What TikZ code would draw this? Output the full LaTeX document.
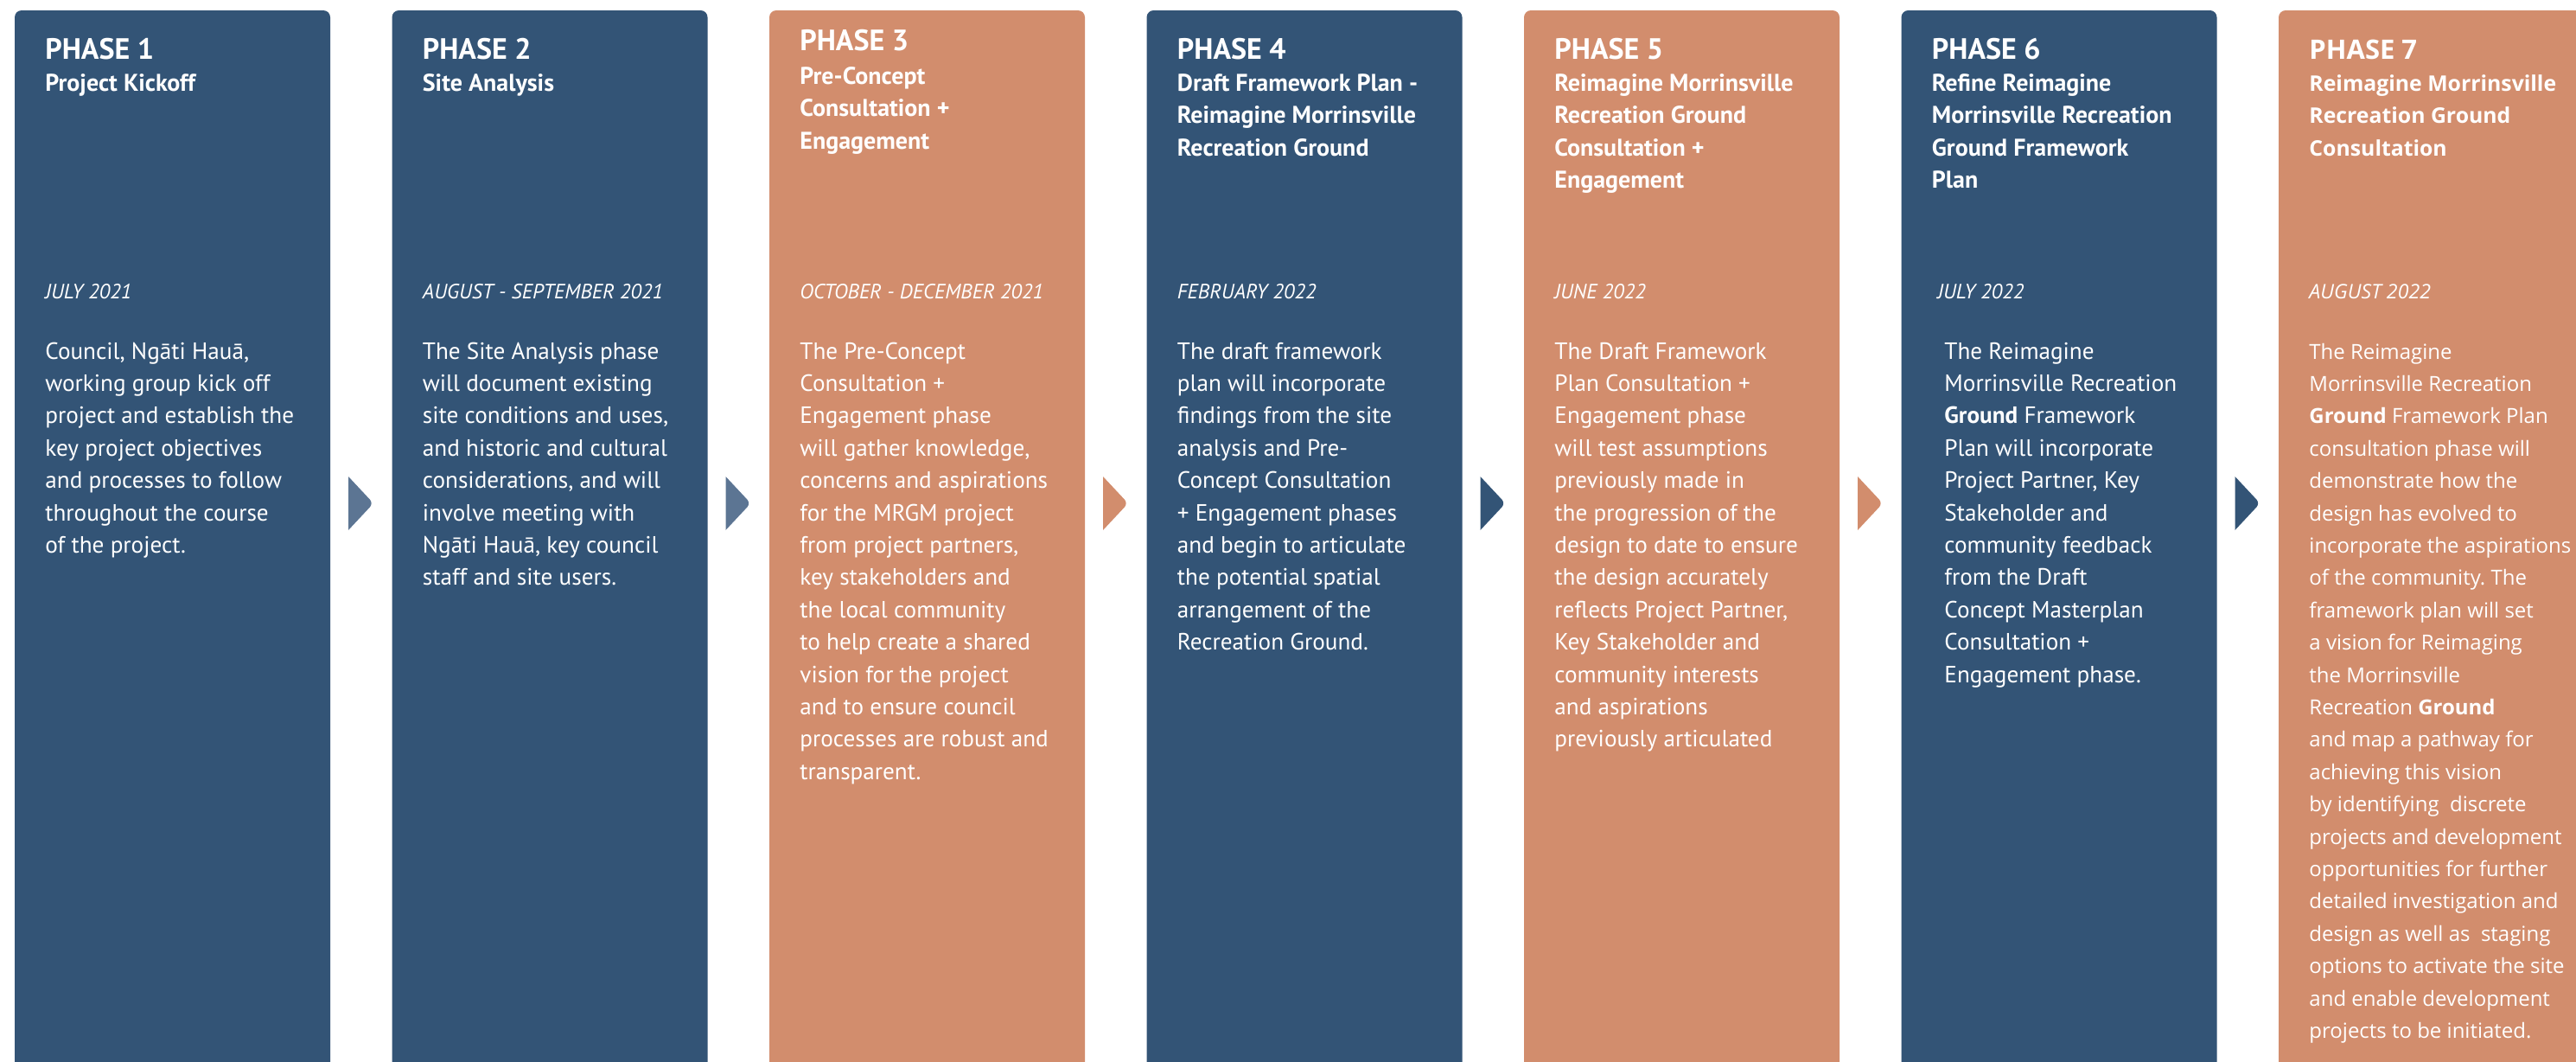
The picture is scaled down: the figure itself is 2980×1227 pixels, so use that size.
\documentclass[tikz,border=0pt]{standalone}
\usepackage{fontspec}
\setmainfont{PT Sans}
\newfontfamily\lateface{Open Sans}
\definecolor{phaseblue}{HTML}{335476}
\definecolor{phaseclay}{HTML}{D28D6D}
\definecolor{phasemist}{HTML}{5C7593}
\newcommand*{\phasefont}{\fontsize{17}{20}\selectfont\bfseries}
\newcommand*{\titlefont}{\fontsize{14}{18.75}\selectfont\bfseries}
\newcommand*{\datefont}{\fontsize{12}{14}\selectfont\itshape}
\newcommand*{\bodyfont}{\fontsize{13.6}{18.7}\selectfont}
\newcommand*{\phaselines}[2]{\parbox[t]{220pt}{#1\frenchspacing\raggedright #2}}

\begin{document}
\begin{tikzpicture}[x=0.5pt, y=-0.5pt]
  \useasboundingbox (0,0) rectangle (2980,1227);
  \fill[white] (0,0) rectangle (2980,1227);
  \clip (0,0) rectangle (2980,1227);

  \foreach \i/\c in {1/phaseblue, 2/phaseblue, 3/phaseclay, 4/phaseblue, 5/phaseclay, 6/phaseblue, 7/phaseclay}
  {
    \fill[\c, rounded corners=4pt] ({17+436.5*(\i-1)}, 12) rectangle ++(365, 1300);
  }

  \foreach \i/\c in {1/phasemist, 2/phasemist, 3/phaseclay, 4/phaseblue, 5/phaseclay, 6/phaseblue}
  {
    \fill[\c] ({403+436.5*(\i-1)}, 551) [rounded corners=3pt] -- ++(29, 31) [sharp corners] -- ++(-29, 31) -- cycle;
  }

  {\tikzstyle{every node}=[anchor=base west, inner sep=0pt, text=white]
    \foreach \i/\y in {1/68, 2/68, 3/58, 4/68, 5/68, 6/68}
    {
      \node[font=\phasefont] (ph\i) at ({52+436.5*(\i-1)}, \y) {PHASE \i};
    }

    \node (t1) at (52, 105) {\phaselines{\titlefont}{Project Kickoff}};
    \node (t2) at (488.5, 105) {\phaselines{\titlefont}{Site Analysis}};
    \node (t3) at (925, 97) {\phaselines{\titlefont}{Pre-Concept\\Consultation +\\Engagement}};
    \node (t4) at (1361.5, 105) {\phaselines{\titlefont}{Draft Framework Plan -\\Reimagine Morrinsville\\Recreation Ground}};
    \node (t5) at (1798, 105) {\phaselines{\titlefont}{Reimagine Morrinsville\\Recreation Ground\\Consultation +\\Engagement}};
    \node (t6) at (2234.5, 105) {\phaselines{\titlefont}{Refine Reimagine\\Morrinsville Recreation\\Ground Framework\\Plan}};

    \node[font=\datefont] (d1) at (52, 345) {JULY 2021};
    \node[font=\datefont] (d2) at (488.5, 345) {AUGUST - SEPTEMBER 2021};
    \node[font=\datefont] (d3) at (925, 345) {OCTOBER - DECEMBER 2021};
    \node[font=\datefont] (d4) at (1361.5, 345) {FEBRUARY 2022};
    \node[font=\datefont] (d5) at (1798, 345) {JUNE 2022};
    \node[font=\datefont] (d6) at (2241, 345) {JULY 2022};

    \node (b1) at (52, 415) {\phaselines{\bodyfont}{Council, Ngāti Hauā,\\working group kick off\\project and establish the\\key project objectives\\and processes to follow\\throughout the course\\of the project.}};
    \node (b2) at (488.5, 415) {\phaselines{\bodyfont}{The Site Analysis phase\\will document existing\\site conditions and uses,\\and historic and cultural\\considerations, and will\\involve meeting with\\Ngāti Hauā, key council\\staff and site users.}};
    \node (b3) at (925, 415) {\phaselines{\bodyfont}{The Pre-Concept\\Consultation +\\Engagement phase\\will gather knowledge,\\concerns and aspirations\\for the MRGM project\\from project partners,\\key stakeholders and\\the local community\\to help create a shared\\vision for the project\\and to ensure council\\processes are robust and\\transparent.}};
    \node (b4) at (1361.5, 415) {\phaselines{\bodyfont}{The draft framework\\plan will incorporate\\findings from the site\\analysis and Pre-\\Concept Consultation\\+ Engagement phases\\and begin to articulate\\the potential spatial\\arrangement of the\\Recreation Ground.}};
    \node (b5) at (1798, 415) {\phaselines{\bodyfont}{The Draft Framework\\Plan Consultation +\\Engagement phase\\will test assumptions\\previously made in\\the progression of the\\design to date to ensure\\the design accurately\\reflects Project Partner,\\Key Stakeholder and\\community interests\\and aspirations\\previously articulated}};
    \node (b6) at (2249, 415) {\phaselines{\bodyfont}{The Reimagine\\Morrinsville Recreation\\\textbf{Ground} Framework\\Plan will incorporate\\Project Partner, Key\\Stakeholder and\\community feedback\\from the Draft\\Concept Masterplan\\Consultation +\\Engagement phase.}};

    \node[font=\lateface\fontsize{15.5}{18}\selectfont\bfseries] (ph7) at (2671, 68) {PHASE 7};
    \node (t7) at (2671, 105) {\phaselines{\lateface\fontsize{12.4}{18.75}\selectfont\bfseries}{Reimagine Morrinsville\\Recreation Ground\\Consultation}};
    \node[font=\lateface\fontsize{11.6}{14}\selectfont\itshape] (d7) at (2671, 345) {AUGUST 2022};
    \node (b7) at (2671, 415) {\phaselines{\lateface\fontsize{12}{18.7}\selectfont}{The Reimagine\\Morrinsville Recreation\\\textbf{Ground} Framework Plan\\consultation phase will\\demonstrate how the\\design has evolved to\\incorporate the aspirations\\of the community. The\\framework plan will set\\a vision for Reimaging\\the Morrinsville\\Recreation \textbf{Ground}\\and map a pathway for\\achieving this vision\\by identifying~ discrete\\projects and development\\opportunities for further\\detailed investigation and\\design as well as~ staging\\options to activate the site\\and enable development\\projects to be initiated.}};
  }
\end{tikzpicture}
\end{document}
